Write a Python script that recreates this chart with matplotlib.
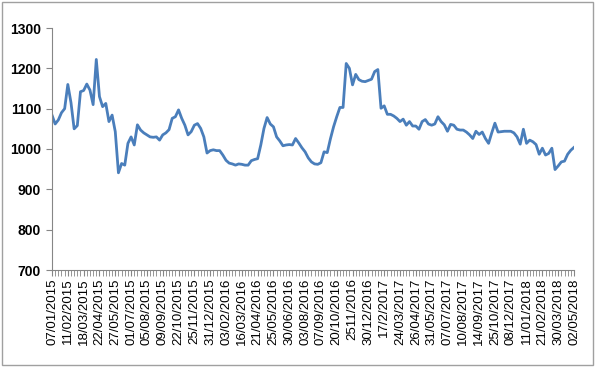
import matplotlib
matplotlib.use('Agg')
import matplotlib.pyplot as plt
from matplotlib.patches import Rectangle

# Nilai mingguan
values = [
    1084, 1062, 1072, 1090, 1100, 1160, 1115, 1050, 1058, 1142,
    1145, 1161, 1146, 1110, 1222, 1130, 1105, 1113, 1068, 1084,
    1043, 941, 964, 960, 1014, 1030, 1010, 1060, 1047, 1040,
    1035, 1030, 1029, 1030, 1022, 1035, 1040, 1048, 1076, 1080,
    1097, 1076, 1059, 1035, 1043, 1059, 1063, 1051, 1030, 990,
    996, 998, 996, 996, 985, 972, 965, 963, 960, 963,
    962, 960, 960, 971, 974, 976, 1010, 1051, 1078, 1062,
    1055, 1030, 1020, 1008, 1010, 1011, 1010, 1026, 1015, 1003,
    993, 978, 968, 963, 962, 966, 993, 991, 1025, 1055,
    1080, 1103, 1103, 1212, 1200, 1159, 1185, 1172, 1168, 1167,
    1170, 1173, 1192, 1197, 1101, 1107, 1086, 1086, 1082, 1076,
    1068, 1074, 1059, 1068, 1057, 1057, 1049, 1068, 1073, 1062,
    1059, 1062, 1080, 1068, 1060, 1044, 1061, 1059, 1049, 1047,
    1047, 1042, 1035, 1026, 1044, 1036, 1042, 1026, 1014, 1040,
    1064, 1042, 1043, 1044, 1044, 1044, 1040, 1030, 1012, 1049,
    1014, 1022, 1018, 1011, 987, 1002, 985, 989, 1002, 949,
    958, 968, 970, 987, 997, 1004,
]

# Label tanggal (setiap 5 minggu)
tick_labels = [
    '07/01/2015', '11/02/2015', '18/03/2015', '22/04/2015', '27/05/2015',
    '01/07/2015', '05/08/2015', '09/09/2015', '22/10/2015', '25/11/2015',
    '31/12/2015', '03/02/2016', '16/03/2016', '21/04/2016', '25/05/2016',
    '30/06/2016', '03/08/2016', '07/09/2016', '20/10/2016', '2511/2016',
    '30/12/2016', '17/2/2017', '24/03/2017', '26/04/2017', '31/05/2017',
    '07/07/2017', '10/08/2017', '14/09/2017', '25/10/2017', '08/12/2017',
    '11/01/2018', '21/02/2018', '30/03/2018', '02/05/2018',
]
label_step = 5

fig = plt.figure(figsize=(5.96, 3.67), dpi=100)
ax = fig.add_axes([52 / 596, 1 - 270 / 367, 522 / 596, 242 / 367])

x = list(range(len(values)))
ax.plot(x, values, color='#4a7ebb', linewidth=2.0, solid_joinstyle='round')

ax.set_xlim(0, len(values) - 1)
ax.set_ylim(700, 1300)
ax.set_yticks(range(700, 1301, 100))
ax.set_yticklabels([str(v) for v in range(700, 1301, 100)],
                   fontsize=10, fontweight='bold', family='Liberation Sans')

ax.set_xticks(x, minor=True)
ax.set_xticks(list(range(0, len(values), label_step)))
ax.set_xticklabels(tick_labels, rotation=90, fontsize=9.5, family='Liberation Sans')

for s in ['top', 'right']:
    ax.spines[s].set_visible(False)
for s in ['left', 'bottom']:
    ax.spines[s].set_color('#868686')
    ax.spines[s].set_linewidth(0.8)

ax.tick_params(axis='x', which='both', length=4, color='#868686', direction='out', pad=2)
ax.tick_params(axis='y', length=4, color='#868686', direction='out', pad=4)

# Bingkai chart
fig.patches.append(Rectangle((2 / 596, 2 / 367), 591 / 596, 363 / 367,
                             transform=fig.transFigure, fill=False,
                             edgecolor='#a0a0a0', linewidth=1.0))

fig.savefig('out.png', dpi=100)
